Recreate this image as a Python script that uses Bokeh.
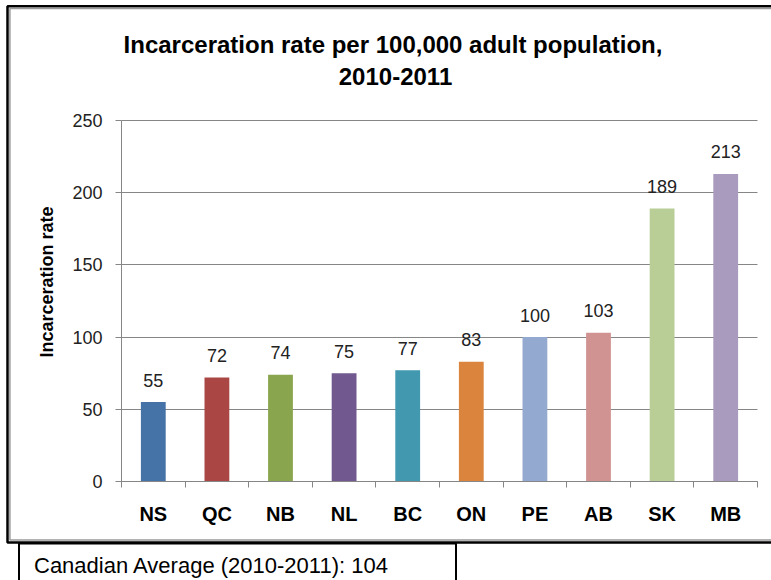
import math
from bokeh.plotting import figure
from bokeh.models import (Range1d, FixedTicker, LinearAxis, Grid,
                          BoxAnnotation, Label, ColumnDataSource)
from bokeh.core.properties import value
from bokeh.embed import file_html
from bokeh.resources import INLINE

# ---- data ----
provinces = ["NS", "QC", "NB", "NL", "BC", "ON", "PE", "AB", "SK", "MB"]
rates = [55, 72, 74, 75, 77, 83, 100, 103, 189, 213]
y_ticks = [0, 50, 100, 150, 200, 250]
title_line1 = "Incarceration rate per 100,000 adult population,"
title_line2 = "2010-2011"
y_title = "Incarceration rate"
note_text = "Canadian Average (2010-2011): 104"

palette = ["#4572A7", "#AA4643", "#89A54E", "#71588F", "#4198AF",
           "#DB843D", "#93A9CF", "#D19392", "#B9CD96", "#A99BBD"]

FONT = "Liberation Sans"
GRID = "#868686"
W, H = 771, 580
# plot-area placement on the canvas (pixels)
PL, PR, PT, PB = 121, 757, 120, 481
YMAX = 250

n = len(provinces)
centers = [i + 0.5 for i in range(n)]          # category slot centres
edges = list(range(n + 1))                      # category slot boundaries


def fx(px):
    return (px - PL) / (PR - PL) * n


def fy(py):
    return (PB - py) / (PB - PT) * YMAX


src = ColumnDataSource(dict(x=centers, top=rates, color=palette,
                            label=[str(v) for v in rates]))

p = figure(width=W, height=H,
           x_range=Range1d(fx(0), fx(W)), y_range=Range1d(fy(H), fy(0)),
           output_backend="svg", toolbar_location=None,
           x_axis_location=None, y_axis_location=None, title=None,
           min_border=0, min_border_left=0, min_border_right=0,
           min_border_top=0, min_border_bottom=0)
p.outline_line_color = None
p.background_fill_color = "white"
p.border_fill_color = "white"
for g in list(p.grid):
    g.visible = False

# horizontal gridlines limited to the plot area
grid = Grid(dimension=1, ticker=FixedTicker(ticks=y_ticks),
            grid_line_color=GRID, cross_bounds=(0, n))
p.add_layout(grid, "center")

# y axis
yax = LinearAxis(ticker=FixedTicker(ticks=y_ticks), fixed_location=0, bounds=(0, YMAX))
yax.axis_line_color = GRID
yax.major_tick_line_color = GRID
yax.major_tick_out = 6
yax.major_tick_in = 0
yax.minor_tick_line_color = None
yax.major_label_text_font = FONT
yax.major_label_text_font_size = "18px"
yax.major_label_text_color = "#222222"
yax.major_label_standoff = 13
p.add_layout(yax, "left")

# x axis: labels at slot centres, tick marks at slot boundaries
xax = LinearAxis(ticker=FixedTicker(ticks=centers, minor_ticks=edges),
                 major_label_overrides={c: name for c, name in zip(centers, provinces)},
                 fixed_location=0, bounds=(0, n))
xax.axis_line_color = GRID
xax.major_tick_line_color = None
xax.major_tick_out = 0
xax.major_tick_in = 0
xax.minor_tick_line_color = GRID
xax.minor_tick_out = 6
xax.minor_tick_in = 0
xax.major_label_text_font = FONT
xax.major_label_text_font_style = "bold"
xax.major_label_text_font_size = "20px"
xax.major_label_text_color = "black"
xax.major_label_standoff = 15
p.add_layout(xax, "below")

# bars
p.vbar(x="x", top="top", width=0.39, color="color", line_color=None, source=src)

# data labels
p.text(x="x", y="top", text="label", source=src, y_offset=-22,
       text_align="center", text_baseline="alphabetic",
       text_font=value(FONT), text_font_size="18px", text_color="#222222")

# chart border (frame of the whole chart object)
p.add_layout(BoxAnnotation(left=fx(7), right=fx(W + 40), top=fy(5.7), bottom=fy(542),
                           fill_alpha=0, line_color="black", line_alpha=1, line_width=2.5))
p.add_layout(BoxAnnotation(left=fx(9.4), right=fx(W + 40), top=fy(8.0), bottom=fy(539.4),
                           fill_alpha=0, line_color="#9a9a9a", line_alpha=1, line_width=1.5))

# note box
p.add_layout(BoxAnnotation(left=fx(18.5), right=fx(455.5), top=fy(543), bottom=fy(H + 40),
                           fill_color="white", fill_alpha=1,
                           line_color="black", line_alpha=1, line_width=2))

# titles and texts
p.add_layout(Label(x=fx(392.5), y=fy(44), text=title_line1,
                   text_align="center", text_baseline="alphabetic",
                   text_font=FONT, text_font_style="bold", text_font_size="24px",
                   text_color="black"))
p.add_layout(Label(x=fx(395), y=fy(76), text=title_line2,
                   text_align="center", text_baseline="alphabetic",
                   text_font=FONT, text_font_style="bold", text_font_size="24px",
                   text_color="black"))
p.add_layout(Label(x=fx(46.5), y=fy(281.5), text=y_title, angle=math.pi / 2,
                   text_align="center", text_baseline="middle",
                   text_font=FONT, text_font_style="bold", text_font_size="18px",
                   text_color="black"))
p.add_layout(Label(x=fx(33.5), y=fy(565), text=note_text,
                   text_align="left", text_baseline="alphabetic",
                   text_font=FONT, text_font_size="22px", text_color="black"))

open("out.html", "w").write(file_html(p, INLINE))
